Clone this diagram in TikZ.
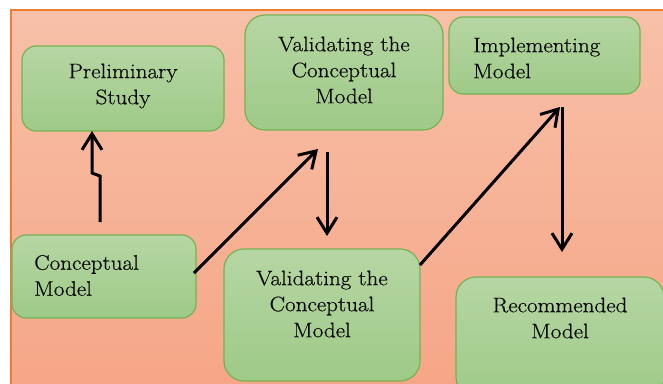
\documentclass[tikz,border=0pt]{standalone}
\usepackage{fontspec}
\setmainfont{Latin Modern Roman}[FakeStretch=1.1, FakeBold=0.5]
\usetikzlibrary{arrows.meta,calc}
\definecolor{bgtop}{RGB}{247,192,168}
\definecolor{bgbot}{RGB}{246,166,135}
\definecolor{bgline}{RGB}{237,125,49}
\definecolor{boxtop}{RGB}{182,214,163}
\definecolor{boxbot}{RGB}{158,202,136}
\definecolor{boxline}{RGB}{118,178,84}
\definecolor{txt}{RGB}{10,10,10}
\begin{document}
\begin{tikzpicture}[x=1pt,y=-1pt,
  box/.style={draw=boxline, line width=1.2pt, top color=boxtop, bottom color=boxbot,
    rounded corners=#1, inner sep=0pt},
  box/.default=14pt,
  lbl/.style={text=txt, font=\fontsize{21}{26}\selectfont, inner sep=0pt},
  arr/.style={line width=3pt, -{Straight Barb[length=16pt,width=20pt,line width=3pt]}}]
\useasboundingbox (0,0) rectangle (663,383);
% background
\fill[top color=bgtop, bottom color=bgbot] (11,10) rectangle (664,384);
\draw[bgline, line width=1.5pt] (11,384) -- (11,10) -- (664,10);
\begin{scope}
\clip (0,0) rectangle (663,383);
% boxes
\node[box, minimum width=202pt, minimum height=85pt] (prelim) at (123,88.5) {};
\node[box=20pt, minimum width=198pt, minimum height=115pt] (valtop) at (344,72.5) {};
\node[box, minimum width=191pt, minimum height=77pt] (impl) at (544.5,55.5) {};
\node[box, minimum width=184pt, minimum height=83pt] (concept) at (104,276.5) {};
\node[box=20pt, minimum width=196pt, minimum height=132pt] (valbot) at (322,315) {};
\node[box=20pt, minimum width=208pt, minimum height=120pt] (recom) at (560,337) {};
\end{scope}
% labels
\node[lbl, align=center] (prelimt) at (123,86) {Preliminary\\Study};
\node[lbl, align=center] (valtopt) at (344,70) {Validating the\\Conceptual\\Model};
\node[lbl, align=left, anchor=west] (implt) at (473,58) {Implementing\\Model};
\node[lbl, align=left, anchor=west] (conceptt) at (34,275.5) {Conceptual\\Model};
\node[lbl, align=center] (valbott) at (322,304) {Validating the\\Conceptual\\Model};
\node[lbl, align=center] (recomt) at (560,318) {Recommended\\Model};
% connector end points
\coordinate (a1) at (100,222);
\coordinate (a1t) at (92,131);
\coordinate (b1) at (194,273);
\coordinate (b1t) at (318,149);
\coordinate (c1) at (327,152);
\coordinate (c1t) at (327,236);
\coordinate (d1) at (420,265);
\coordinate (d1t) at (560,107);
\coordinate (e1) at (562,107);
\coordinate (e1t) at (562,252);
% connectors
\draw[arr] (a1) -- ++(0,-46) -- ++(-8,-3) -- (a1t);
\draw[arr] (b1) -- (b1t);
\draw[arr] (c1) -- (c1t);
\draw[arr] (d1) -- (d1t);
\draw[arr] (e1) -- (e1t);
\end{tikzpicture}
\end{document}
